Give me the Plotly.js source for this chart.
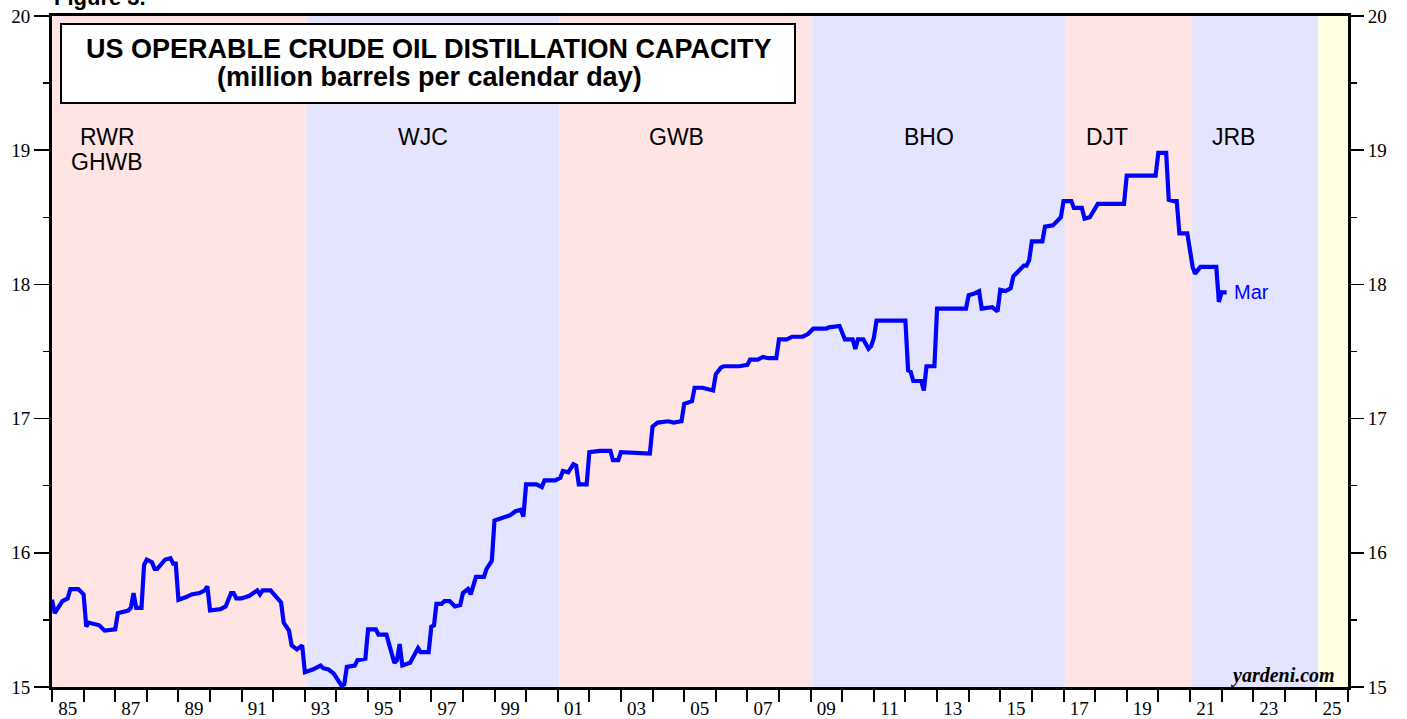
<!DOCTYPE html>
<html>
<head>
<meta charset="utf-8">
<script src="https://cdn.plot.ly/plotly-3.0.1.min.js"></script>
<style>
html,body{margin:0;padding:0;background:#fff;}
#chart{width:1407px;height:719px;}
</style>
</head>
<body>
<div id="chart"></div>
<script>
// ---- data ----
const dates = ['1985-01','1985-02','1985-05','1985-07','1985-08','1985-11','1986-01','1986-02','1986-03','1986-05','1986-07','1986-09','1987-01','1987-02','1987-06','1987-07','1987-08','1987-09','1987-11','1987-12','1988-01','1988-03','1988-04','1988-05','1988-08','1988-10','1988-11','1988-12','1989-01','1989-04','1989-06','1989-09','1989-11','1989-12','1990-01','1990-05','1990-07','1990-09','1990-10','1990-11','1991-01','1991-04','1991-07','1991-08','1991-09','1991-12','1992-02','1992-04','1992-05','1992-07','1992-08','1992-10','1992-12','1993-01','1993-04','1993-07','1993-08','1993-10','1993-12','1994-03','1994-04','1994-05','1994-08','1994-09','1994-12','1995-01','1995-04','1995-05','1995-08','1995-11','1995-12','1996-01','1996-02','1996-05','1996-08','1996-09','1996-12','1997-01','1997-02','1997-03','1997-05','1997-06','1997-08','1997-10','1997-12','1998-01','1998-03','1998-04','1998-06','1998-09','1998-10','1998-12','1999-01','1999-04','1999-07','1999-09','1999-11','1999-12','2000-01','2000-05','2000-07','2000-08','2000-12','2001-02','2001-03','2001-05','2001-07','2001-08','2001-09','2001-12','2002-01','2002-05','2002-09','2002-10','2002-12','2003-01','2003-12','2004-01','2004-03','2004-07','2004-09','2004-12','2005-01','2005-04','2005-05','2005-08','2005-12','2006-01','2006-03','2006-04','2006-10','2007-01','2007-02','2007-05','2007-07','2007-09','2007-12','2008-01','2008-04','2008-06','2008-10','2008-12','2009-02','2009-07','2009-08','2009-12','2010-02','2010-05','2010-06','2010-07','2010-09','2010-11','2010-12','2011-01','2011-02','2012-01','2012-02','2012-03','2012-04','2012-07','2012-08','2012-09','2012-12','2013-01','2013-12','2014-01','2014-03','2014-05','2014-06','2014-10','2014-12','2015-01','2015-03','2015-05','2015-06','2015-08','2015-10','2015-11','2015-12','2016-01','2016-05','2016-06','2016-09','2016-12','2017-01','2017-04','2017-05','2017-08','2017-09','2017-11','2018-02','2018-12','2019-01','2019-12','2020-01','2020-04','2020-05','2020-07','2020-08','2020-09','2020-12','2021-02','2021-03','2021-05','2021-11','2021-12','2022-01','2022-03'];
const capacity = [15.65,15.55,15.64,15.66,15.73,15.73,15.69,15.45,15.48,15.47,15.46,15.42,15.43,15.55,15.57,15.59,15.70,15.59,15.59,15.91,15.95,15.93,15.88,15.88,15.95,15.96,15.92,15.92,15.65,15.67,15.69,15.70,15.72,15.75,15.57,15.58,15.60,15.70,15.70,15.66,15.66,15.68,15.72,15.69,15.72,15.72,15.67,15.63,15.48,15.42,15.31,15.28,15.31,15.11,15.13,15.16,15.14,15.13,15.10,15.01,15.02,15.15,15.16,15.20,15.21,15.43,15.43,15.39,15.39,15.18,15.20,15.32,15.16,15.18,15.29,15.26,15.26,15.45,15.46,15.62,15.62,15.64,15.64,15.60,15.61,15.70,15.73,15.69,15.82,15.82,15.88,15.94,16.24,16.26,16.28,16.31,16.32,16.27,16.51,16.51,16.49,16.54,16.54,16.56,16.61,16.60,16.66,16.65,16.51,16.51,16.75,16.76,16.76,16.69,16.69,16.75,16.74,16.94,16.97,16.98,16.97,16.98,17.11,17.13,17.23,17.23,17.21,17.33,17.38,17.39,17.39,17.40,17.44,17.44,17.46,17.45,17.45,17.59,17.59,17.61,17.61,17.63,17.67,17.67,17.68,17.69,17.59,17.59,17.52,17.59,17.59,17.52,17.54,17.60,17.73,17.73,17.36,17.35,17.28,17.28,17.21,17.39,17.39,17.82,17.82,17.92,17.93,17.95,17.82,17.83,17.80,17.96,17.95,17.97,18.06,18.10,18.14,18.14,18.18,18.32,18.32,18.43,18.44,18.50,18.62,18.62,18.57,18.57,18.49,18.50,18.60,18.60,18.81,18.81,18.98,18.98,18.63,18.62,18.62,18.38,18.38,18.13,18.08,18.13,18.13,17.87,17.94,17.94];

const termStarts = ['1985-01-01','1993-01-20','2001-01-20','2009-01-20','2017-01-20','2021-01-20','2025-01-20'];
const termParty  = ['R','D','R','D','R','D','N'];
const axisEnd = '2026-01-01';

const presLabels = ['RWR','GHWB','WJC','GWB','BHO','DJT','JRB'];
const presLabelX = ['1986-10-01','1986-10-01','1996-10-01','2004-10-01','2012-10-01','2018-05-15','2022-05-15'];
const presLabelRow = [0,1,0,0,0,0,0];

const yearTicks = [];
for (let y = 1985; y <= 2026; y++) yearTicks.push(y + '-01-01');
const labelYears = [1985,1987,1989,1991,1993,1995,1997,1999,2001,2003,2005,2007,2009,2011,2013,2015,2017,2019,2021,2023,2025];
const labelText = ['85','87','89','91','93','95','97','99','01','03','05','07','09','11','13','15','17','19','21','23','25'];
const yTicks = [15,16,17,18,19,20];

const titleLines = ['US OPERABLE CRUDE OIL DISTILLATION CAPACITY','(million barrels per calendar day)'];
const lastLabel = 'Mar';

// ---- layout helpers ----
const partyColor = {R:'rgb(255,228,228)', D:'rgb(228,228,255)', N:'rgb(255,255,228)'};
const shapes = termStarts.map((s,i)=>({
  type:'rect', xref:'x', yref:'paper', layer:'below',
  x0:s, x1:(i+1<termStarts.length?termStarts[i+1]:axisEnd), y0:0, y1:1,
  fillcolor:partyColor[termParty[i]], line:{width:0}
}));
// title box
shapes.push({type:'rect', xref:'paper', yref:'paper', layer:'above',
  x0:(61-52)/1296, x1:(795-52)/1296, y0:(687-103)/671, y1:(687-24)/671,
  fillcolor:'#ffffff', line:{color:'#000', width:2}});

const annotations = [];
titleLines.forEach((t,i)=>annotations.push({
  text:'<b>'+t+'</b>', xref:'paper', yref:'paper', x:(429-52)/1296, y:(687-(49+i*28))/671,
  xanchor:'center', yanchor:'middle', showarrow:false,
  font:{family:'Liberation Sans, Arial, sans-serif', size:27, color:'#000'}
}));
presLabels.forEach((t,i)=>annotations.push({
  text:t, xref:'x', yref:'paper', x:presLabelX[i], y:(687-(137+presLabelRow[i]*25))/671,
  xanchor:'center', yanchor:'middle', showarrow:false,
  font:{family:'Liberation Sans, Arial, sans-serif', size:23, color:'#000'}
}));
annotations.push({
  text:lastLabel, xref:'x', yref:'y', x:dates[dates.length-1], y:capacity[capacity.length-1],
  xanchor:'left', yanchor:'middle', xshift:5, showarrow:false,
  font:{family:'Liberation Sans, Arial, sans-serif', size:20, color:'#0000ff'}
});
annotations.push({
  text:'<b><i>yardeni.com</i></b>', xref:'paper', yref:'paper', x:(1337-52)/1296, y:(687-675)/671,
  xanchor:'right', yanchor:'middle', showarrow:false,
  font:{family:'Liberation Serif, Times New Roman, serif', size:20, color:'#000'}
});
annotations.push({
  text:'<b>Figure 3.</b>', xref:'paper', yref:'paper', x:0, y:(687-12)/671,
  xanchor:'left', yanchor:'bottom', showarrow:false,
  font:{family:'Liberation Sans, Arial, sans-serif', size:22, color:'#000'}
});

const tickFont = {family:'Liberation Serif, Times New Roman, serif', size:19, color:'#000'};

const traces = [{
  x:dates, y:capacity, type:'scatter', mode:'lines', xaxis:'x', yaxis:'y',
  line:{color:'#0000ff', width:4.2}, hoverinfo:'skip', showlegend:false
},{
  // same series on the overlay axes (invisible) so the right axis and year labels are drawn
  x:dates, y:capacity, type:'scatter', mode:'lines', xaxis:'x2', yaxis:'y2',
  line:{color:'rgba(0,0,0,0)', width:0}, hoverinfo:'skip', showlegend:false
}];

const layout = {
  width:1407, height:719,
  margin:{l:52, r:59, t:16, b:32},
  paper_bgcolor:'#ffffff', plot_bgcolor:'#ffffff',
  showlegend:false,
  xaxis:{
    type:'date', range:['1985-01-01', axisEnd], showgrid:false, zeroline:false,
    tickmode:'array', tickvals:yearTicks, showticklabels:false,
    ticks:'outside', ticklen:12, tickwidth:2, tickcolor:'#000',
    showline:true, linecolor:'#000', linewidth:3, mirror:true
  },
  xaxis2:{
    type:'date', range:['1985-01-01', axisEnd], overlaying:'x', anchor:'y2', side:'bottom',
    showgrid:false, zeroline:false, showline:false,
    tickmode:'array', tickvals:labelYears.map(y=>y+'-07-01'), ticktext:labelText,
    ticks:'outside', ticklen:4, tickcolor:'rgba(0,0,0,0)', tickfont:tickFont
  },
  yaxis:{
    range:[15,20], showgrid:false, zeroline:false,
    tickmode:'array', tickvals:yTicks, ticks:'outside', ticklen:15, tickwidth:1.5, tickcolor:'#000',
    minor:{dtick:0.5, ticks:'outside', ticklen:6, tickwidth:1.5, tickcolor:'#000', showgrid:false},
    showline:true, linecolor:'#000', linewidth:3, mirror:true,
    tickfont:tickFont
  },
  yaxis2:{
    range:[15,20], overlaying:'y', side:'right', anchor:'x2', showgrid:false, zeroline:false,
    tickmode:'array', tickvals:yTicks, ticks:'outside', ticklen:13, tickwidth:1.5, tickcolor:'#000',
    minor:{dtick:0.5, ticks:'outside', ticklen:6, tickwidth:1.5, tickcolor:'#000', showgrid:false},
    showline:true, linecolor:'#000', linewidth:3,
    tickfont:tickFont
  },
  shapes:shapes,
  annotations:annotations
};

Plotly.newPlot('chart', traces, layout, {staticPlot:true, displayModeBar:false});
</script>
</body>
</html>
